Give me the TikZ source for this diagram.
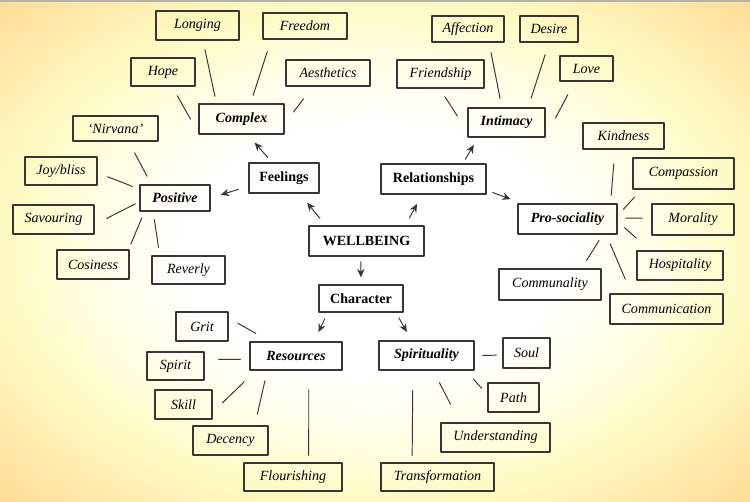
\documentclass[tikz,border=0pt]{standalone}
\usepackage{fontspec}
\setmainfont{Liberation Serif}
\usetikzlibrary{arrows.meta}
\newdimen\pxu \pxu=0.02cm
\definecolor{bgmid}{HTML}{FFFFEA}
\definecolor{bgedge}{HTML}{FFFAC2}
\definecolor{bgcorner}{HTML}{FFDC96}
\definecolor{ink}{HTML}{363636}
\pgfdeclareradialshading{glow}{\pgfpoint{0bp}{0bp}}{color(0bp)=(white); color(12bp)=(white); color(18bp)=(bgmid); color(25bp)=(bgedge); color(35.4bp)=(bgcorner); color(50bp)=(bgcorner)}
\begin{document}
\begin{tikzpicture}[x=0.02cm, y=-0.02cm, >={Stealth[length=4.8pt,width=4.2pt]}, line cap=round, line join=round,
  box/.style={draw=ink, line width=0.75pt, inner sep=0pt, minimum height=28\pxu},
  leaf/.style={box, font=\fontsize{8}{10}\selectfont\itshape},
  hub/.style={box, font=\fontsize{8}{10}\selectfont\bfseries\itshape},
  main/.style={box, font=\fontsize{8}{10}\selectfont\bfseries},
  link/.style={draw=ink, line width=0.55pt},
  gap/.style 2 args={shorten <=#1\pxu, shorten >=#2\pxu}]

  % Nền
  \useasboundingbox (0,0) rectangle (750,501);
  \shade[shading=glow] (0,0) rectangle (750,501);
  \draw[gray!60, line width=1.5\pxu] (0,0.75) -- (750,0.75);

  % Các ô chính
  \node[main, minimum width=115\pxu, minimum height=30\pxu] (well) at (366.5,241) {WELLBEING};
  \node[main, minimum width=70\pxu, minimum height=30\pxu] (feel) at (284,178) {Feelings};
  \node[main, minimum width=105\pxu, minimum height=30\pxu] (rel) at (433.5,179) {Relationships};
  \node[main, minimum width=84\pxu, minimum height=27\pxu] (char) at (361,298.5) {Character};

  % Các ô nhánh
  \node[hub, minimum width=85\pxu, minimum height=30\pxu] (cplx) at (241.5,119) {Complex};
  \node[hub, minimum width=70\pxu, minimum height=26\pxu] (posi) at (175,198) {Positive};
  \node[hub, minimum width=77\pxu, minimum height=29\pxu] (intim) at (506.5,122.5) {Intimacy};
  \node[hub, minimum width=99\pxu, minimum height=30\pxu] (prosoc) at (567.5,219) {Pro-sociality};
  \node[hub, minimum width=92\pxu] (resrc) at (296,356) {Resources};
  \node[hub, minimum width=95\pxu, minimum height=29\pxu] (spir) at (426.5,355.5) {Spirituality};

  % Các ô lá
  \node[leaf, minimum width=83\pxu, minimum height=29\pxu] (longing) at (197.5,25.5) {Longing};
  \node[leaf, minimum width=84\pxu, minimum height=26\pxu] (freedom) at (305,26) {Freedom};
  \node[leaf, minimum width=64\pxu] (hope) at (163,72) {Hope};
  \node[leaf, minimum width=84\pxu, minimum height=26\pxu] (aesth) at (328,73) {Aesthetics};
  \node[leaf, minimum width=85\pxu, minimum height=25\pxu] (nirvana) at (115.5,128.5) {‘Nirvana’};
  \node[leaf, minimum width=72\pxu] (joy) at (61,171) {Joy/bliss};
  \node[leaf, minimum width=81\pxu, minimum height=29\pxu] (savour) at (53.5,219.5) {Savouring};
  \node[leaf, minimum width=72\pxu, minimum height=29\pxu] (cosy) at (93,264.5) {Cosiness};
  \node[leaf, minimum width=73\pxu] (reverly) at (188.5,270) {Reverly};
  \node[leaf, minimum width=87\pxu] (friend) at (440.5,74) {Friendship};
  \node[leaf, minimum width=72\pxu, minimum height=26\pxu] (affect) at (468,29) {Affection};
  \node[leaf, minimum width=58\pxu, minimum height=26\pxu] (desire) at (549,29) {Desire};
  \node[leaf, minimum width=53\pxu, minimum height=25\pxu] (love) at (586.5,68.5) {Love};
  \node[leaf, minimum width=81\pxu, minimum height=26\pxu] (kind) at (623.5,136) {Kindness};
  \node[leaf, minimum width=101\pxu, minimum height=31\pxu] (compas) at (683.5,173.5) {Compassion};
  \node[leaf, minimum width=82\pxu, minimum height=31\pxu] (moral) at (693,219.5) {Morality};
  \node[leaf, minimum width=86\pxu, minimum height=29\pxu] (hospit) at (680,265.5) {Hospitality};
  \node[leaf, minimum width=102\pxu, minimum height=31\pxu] (communal) at (550,284.5) {Communality};
  \node[leaf, minimum width=113\pxu, minimum height=30\pxu] (commun) at (666.5,309) {Communication};
  \node[leaf, minimum width=52\pxu, minimum height=29\pxu] (grit) at (202,326.5) {Grit};
  \node[leaf, minimum width=57\pxu] (spirit) at (175.5,366) {Spirit};
  \node[leaf, minimum width=57\pxu, minimum height=29\pxu] (skill) at (183.5,404.5) {Skill};
  \node[leaf, minimum width=75\pxu, minimum height=29\pxu] (decency) at (230.5,440.5) {Decency};
  \node[leaf, minimum width=98\pxu] (flourish) at (293,477) {Flourishing};
  \node[leaf, minimum width=47\pxu, minimum height=30\pxu] (soul) at (526.5,353) {Soul};
  \node[leaf, minimum width=51\pxu, minimum height=29\pxu] (path) at (513.5,397.5) {Path};
  \node[leaf, minimum width=109\pxu, minimum height=29\pxu] (underst) at (495.5,437.5) {Understanding};
  \node[leaf, minimum width=113\pxu] (transf) at (437.5,477) {Transformation};

  % Mũi tên
  \draw[link, ->, gap={9.1}{11.7}] (well.159.8) -- (feel.-45.8);
  \draw[link, ->, gap={8.3}{10.6}] (well.22.6) -- (rel.-126);
  \draw[link, ->, gap={5}{7}] (well.-110) -- (char.north);
  \draw[link, ->, gap={6.6}{10.6}] (feel.127.7) -- (cplx.-69.9);
  \draw[link, ->, gap={10.5}{10.5}] (feel.-167.4) -- (posi.east);
  \draw[link, ->, gap={4.7}{8.3}] (rel.28.2) -- (intim.-152.7);
  \draw[link, ->, gap={6.4}{12.1}] (rel.-12.8) -- (prosoc.161.2);
  \draw[link, ->, gap={6.8}{10.2}] (char.-157) -- (resrc.39.1);
  \draw[link, ->, gap={5.9}{9.4}] (char.-22.3) -- (spir.135);

  % Các đường nối: Complex
  \draw[link, gap={10.4}{15.9}] (hope.-58) -- (cplx.-162);
  \draw[link, gap={9.2}{7.2}] (longing.-70) -- (cplx.148);
  \draw[link, gap={12.6}{8.4}] (freedom.-158.5) -- (cplx.60);
  \draw[link, gap={15.3}{14.6}] (aesth.-138) -- (cplx.-6);

  % Positive
  \draw[link, gap={12.6}{9.2}] (nirvana.-45.5) -- (posi.150);
  \draw[link, gap={10.7}{7.5}] (joy.-3.5) -- (posi.166.7);
  \draw[link, gap={13.4}{4.5}] (savour.-7.7) -- (posi.186.5);
  \draw[link, gap={5.5}{6.6}] (cosy.23.3) -- (posi.-156.7);
  \draw[link, gap={8.1}{8.1}] (reverly.153.8) -- (posi.-148.4);

  % Intimacy
  \draw[link, gap={9.5}{18.4}] (friend.-93) -- (intim.-167);
  \draw[link, gap={10.2}{9.2}] (affect.-33.2) -- (intim.107.6);
  \draw[link, gap={12.6}{9.5}] (desire.south) -- (intim.35.3);
  \draw[link, gap={14.8}{21}] (love.-132.6) -- (intim.-20);

  % Pro-sociality
  \draw[link, gap={14.2}{8.1}] (kind.-122.9) -- (prosoc.20.9);
  \draw[link, gap={9.9}{8.5}] (compas.-159) -- (prosoc.4.6);
  \draw[link, gap={9}{8}] (moral.178) -- (prosoc.1.2);
  \draw[link, gap={18.6}{9.2}] (hospit.153.3) -- (prosoc.-3.6);
  \draw[link, gap={15.4}{9.9}] (commun.156.9) -- (prosoc.-22.4);
  \draw[link, gap={9.2}{6.9}] (communal.27) -- (prosoc.-24.5);

  % Resources
  \draw[link, gap={10.4}{16}] (grit.18.5) -- (resrc.151.9);
  \draw[link, gap={14}{9}] (spirit.13.8) -- (resrc.-176.3);
  \draw[link, gap={13.8}{15.9}] (skill.-15.9) -- (resrc.-160.5);
  \draw[link, gap={11.4}{10.3}] (decency.32.6) -- (resrc.-153.8);
  \draw[link, gap={7}{19}] (flourish.43) -- (resrc.-49.4);

  % Spirituality
  \draw[link, gap={6}{8}] (soul.-175) -- (spir.east);
  \draw[link, gap={8.5}{11.3}] (path.174.4) -- (spir.-21.7);
  \draw[link, gap={20.3}{13.5}] (underst.157.6) -- (spir.-66.8);
  \draw[link, gap={7}{20}] (transf.150.3) -- (spir.-132.9);

\end{tikzpicture}
\end{document}
